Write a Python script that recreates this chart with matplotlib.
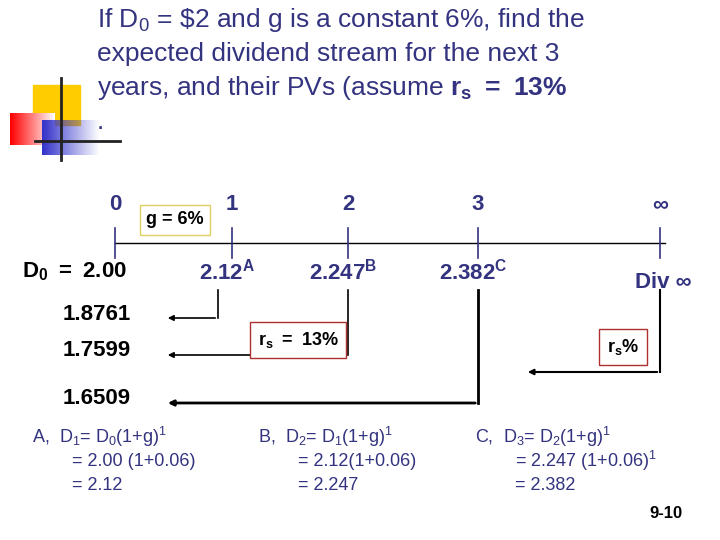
import matplotlib
matplotlib.use("Agg")
import matplotlib.pyplot as plt
from matplotlib.patches import Rectangle
import numpy as np

plt.rcParams['font.family'] = ['Liberation Sans', 'DejaVu Sans']
plt.rcParams['mathtext.fontset'] = 'custom'
plt.rcParams['mathtext.rm'] = 'Liberation Sans'
plt.rcParams['mathtext.bf'] = 'Liberation Sans:bold'

NAVY = '#333380'
periods = ['0', '1', '2', '3', '∞']
period_x = [115, 232, 348, 478, 660]
dividends = [r'$\mathregular{2.12^{A}}$', r'$\mathregular{2.247^{B}}$', r'$\mathregular{2.382^{C}}$']
pvs = ['1.8761', '1.7599', '1.6509']
pv_y = [318, 355, 403]

fig = plt.figure(figsize=(7.2, 5.4), dpi=100)
ax = fig.add_axes([0, 0, 1, 1])
ax.set_xlim(0, 720); ax.set_ylim(540, 0); ax.axis('off')

# logo
ax.add_patch(Rectangle((33, 85), 47, 40, color='#ffcc00'))
grad = np.linspace(1, 0, 50)[None, :]
ax.imshow(np.dstack([np.ones((1, 50)), 1 - grad, 1 - grad, np.ones((1, 50))]),
          extent=(10, 55, 145, 113), aspect='auto', zorder=2)
ax.imshow(np.dstack([0.2 * np.ones((1, 50)), 0.2 * np.ones((1, 50)), 0.8 * np.ones((1, 50)),
                     np.linspace(1, 0, 50)[None, :]]),
          extent=(42, 100, 155, 120), aspect='auto', zorder=3)
ax.plot([61, 61], [78, 160], color='#222', lw=2, zorder=4)
ax.plot([35, 120], [141, 141], color='#222', lw=2, zorder=4)

# title
title = ['If D$_0$ = \\$2 and g is a constant 6%, find the',
         'expected dividend stream for the next 3',
         r'years, and their PVs (assume $\mathbf{r_s}$ $\mathbf{=\ 13\%}$',
         '.']
for i, t in enumerate(title):
    ax.text(97, 20 + 34 * i, t, fontsize=19, color=NAVY, va='center', ha='left')

# timeline
ax.plot([115, 665], [243, 243], color='black', lw=1)
for p, x in zip(periods, period_x):
    ax.plot([x, x], [228, 258], color=NAVY, lw=1.2)
    ax.text(x, 205, p, fontsize=16, fontweight='bold', color=NAVY, ha='center', va='center')
ax.text(175, 220, 'g = 6%', fontsize=13, fontweight='bold', ha='center', va='center',
        bbox=dict(boxstyle='square,pad=0.35', fc='white', ec='#e0d060'))

ax.text(75, 272, r'$\mathbf{D_0}$ $\mathbf{=\ 2.00}$', fontsize=16, ha='center', va='center')
for d, x in zip(dividends, period_x[1:4]):
    ax.text(x - 5, 272, d, fontsize=16, fontweight='bold', color=NAVY, ha='center', va='center')
ax.text(663, 283, 'Div ∞', fontsize=16, fontweight='bold', color=NAVY, ha='center', va='center')

for v, y in zip(pvs, pv_y):
    ax.text(97, y - 4, v, fontsize=16, fontweight='bold', ha='center', va='center')

arrow_x = [218, 348, 478]
for x, y, w in zip(arrow_x, pv_y, [1.2, 1.2, 2]):
    ax.plot([x, x], [290, y], color='black', lw=w)
    ax.annotate('', xy=(165, y), xytext=(x, y),
                arrowprops=dict(arrowstyle='-|>', color='black', lw=w, mutation_scale=8))
ax.plot([660, 660], [290, 372], color='black', lw=1.5)
ax.annotate('', xy=(525, 372), xytext=(660, 372),
            arrowprops=dict(arrowstyle='-|>', color='black', lw=1.5, mutation_scale=8))

ax.text(298, 340, r'$\mathbf{r_s}$ $\mathbf{=\ 13\%}$', fontsize=13, ha='center', va='center',
        bbox=dict(boxstyle='square,pad=0.45', fc='white', ec='#b03030'))
ax.text(623, 347, r'$\mathbf{r_s\%}$', fontsize=13, ha='center', va='center',
        bbox=dict(boxstyle='square,pad=0.45', fc='white', ec='#b03030'))

# bottom formulas
blocks = [
    (32, [r'A,  D$_1$= D$_0$(1+g)$^1$', '        = 2.00 (1+0.06)', '        = 2.12']),
    (258, [r'B,  D$_2$= D$_1$(1+g)$^1$', '        = 2.12(1+0.06)', '        = 2.247']),
    (475, [r'C,  D$_3$= D$_2$(1+g)$^1$', '        = 2.247 (1+0.06)$^1$', '        = 2.382']),
]
for x, lines in blocks:
    for i, l in enumerate(lines):
        ax.text(x, 437 + 24 * i, l, fontsize=13, color=NAVY, ha='left', va='center')
ax.text(683, 513, '9-10', fontsize=12, fontweight='bold', ha='right', va='center')

fig.savefig('out.png', dpi=100)
